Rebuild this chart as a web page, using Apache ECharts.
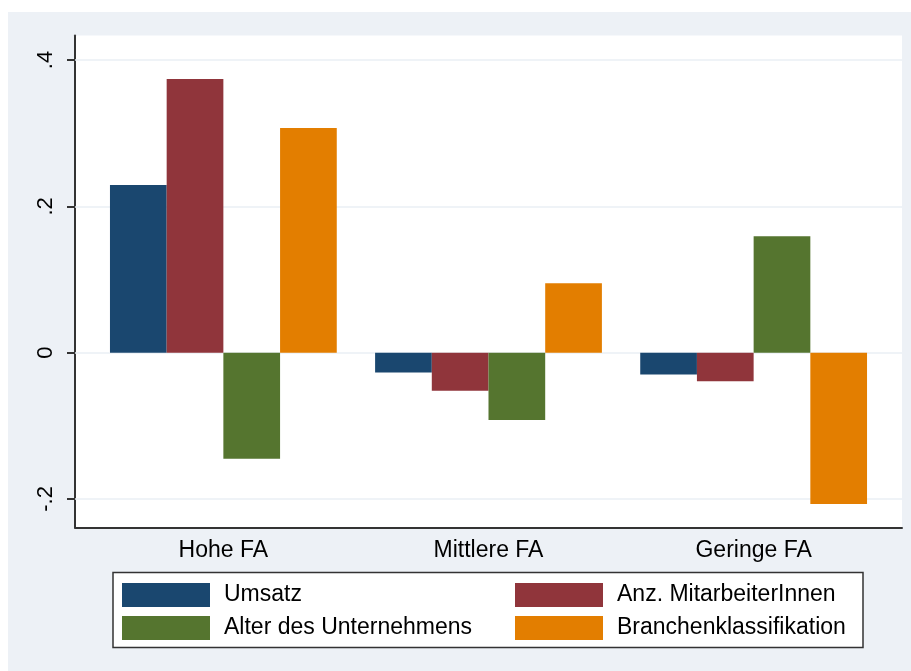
<!DOCTYPE html>
<html>
<head>
<meta charset="utf-8">
<script src="https://cdn.jsdelivr.net/npm/echarts@6/dist/echarts.min.js"></script>
<style>
html,body{margin:0;padding:0;background:#fff;}
#main{width:911px;height:671px;}
</style>
</head>
<body>
<div id="main"></div>
<script>
// ---- data ----
const categories = ['Hohe FA', 'Mittlere FA', 'Geringe FA'];
const seriesNames = ['Umsatz', 'Anz. MitarbeiterInnen', 'Alter des Unternehmens', 'Branchenklassifikation'];
const umsatz = [0.229, -0.027, -0.030];
const mitarbeiter = [0.374, -0.052, -0.039];
const alter = [-0.145, -0.092, 0.159];
const branche = [0.307, 0.095, -0.207];
const yTicks = [-0.2, 0, 0.2, 0.4];
const yTickLabels = ['-.2', '0', '.2', '.4'];

const colors = ['#1a476f', '#90353b', '#55752f', '#e37e00'];
const values = [umsatz, mitarbeiter, alter, branche];
const yMin = -0.239, yMax = 0.4335;
const FONT = 'Liberation Sans, Arial, sans-serif';

const chart = echarts.init(document.getElementById('main'), null, {renderer: 'canvas'});

const barSeries = seriesNames.map((n, i) => ({
  name: n,
  type: 'bar',
  xAxisIndex: 1,
  yAxisIndex: 1,
  data: values[i],
  barWidth: 56.7,
  barGap: '0%',
  itemStyle: {color: colors[i]},
  z: 5
}));

const option = {
  backgroundColor: '#ffffff',
  animation: false,
  textStyle: {fontFamily: FONT},
  graphic: [
    {type: 'rect', z: -10, silent: true, shape: {x: 8, y: 12, width: 903, height: 659}, style: {fill: '#edf1f6'}},
    {type: 'rect', z: 1, silent: true, shape: {x: 113, y: 572.5, width: 750, height: 75}, style: {fill: '#ffffff', stroke: '#333333', lineWidth: 1.5}}
  ],
  grid: [
    {left: 75, top: 35.5, width: 827, height: 492, show: true, backgroundColor: '#ffffff', borderWidth: 0, z: 0},
    {left: 90.8, top: 35.5, width: 795.4, height: 492, show: false}
  ],
  xAxis: [
    {gridIndex: 0, type: 'value', min: 0, max: 1, position: 'bottom',
     axisLine: {show: true, onZero: false, lineStyle: {color: '#333333', width: 2}},
     axisTick: {show: false}, axisLabel: {show: false}, splitLine: {show: false}},
    {gridIndex: 1, type: 'category', data: categories, position: 'bottom',
     axisLine: {show: false}, axisTick: {show: false}, splitLine: {show: false},
     axisLabel: {show: true, margin: 12, color: '#000', fontSize: 23, fontFamily: FONT}}
  ],
  yAxis: [
    {gridIndex: 0, type: 'value', min: yMin, max: yMax,
     axisLine: {show: true, onZero: false, lineStyle: {color: '#333333', width: 2}},
     axisTick: {show: true, length: 8, customValues: yTicks, lineStyle: {color: '#333333', width: 2}},
     axisLabel: {show: true, customValues: yTicks, rotate: 90, margin: 18, color: '#000', fontSize: 22, fontFamily: FONT,
       formatter: v => { const k = yTicks.findIndex(t => Math.abs(t - v) < 1e-9); return k >= 0 ? yTickLabels[k] : ''; }},
     splitLine: {show: false}},
    {gridIndex: 1, type: 'value', min: yMin, max: yMax, show: false, splitLine: {show: false}}
  ],
  legend: [
    {data: [seriesNames[0], seriesNames[2]], left: 122, top: 583, orient: 'vertical', itemWidth: 88, itemHeight: 24, itemGap: 9,
     padding: 0, icon: 'rect', selectedMode: false, z: 5,
     textStyle: {fontSize: 23, color: '#000', fontFamily: FONT, padding: [0, 0, 0, 9]}},
    {data: [seriesNames[1], seriesNames[3]], left: 515, top: 583, orient: 'vertical', itemWidth: 88, itemHeight: 24, itemGap: 9,
     padding: 0, icon: 'rect', selectedMode: false, z: 5,
     textStyle: {fontSize: 23, color: '#000', fontFamily: FONT, padding: [0, 0, 0, 9]}}
  ],
  series: [
    {name: '_grid', type: 'line', xAxisIndex: 0, yAxisIndex: 0, data: [[0, 0]], showSymbol: false,
     lineStyle: {opacity: 0}, silent: true, z: 1,
     markLine: {silent: true, symbol: ['none', 'none'], label: {show: false}, animation: false,
       lineStyle: {color: '#eaeff4', width: 1.5, type: 'solid'},
       data: yTicks.map(v => ({yAxis: v}))}}
  ].concat(barSeries)
};
chart.setOption(option);
</script>
</body>
</html>
